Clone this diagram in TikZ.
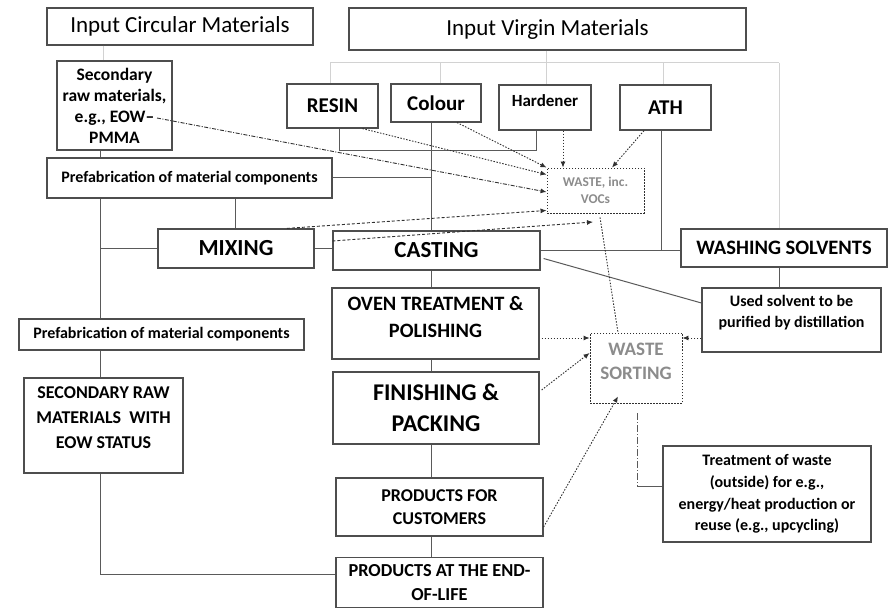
\documentclass[tikz,border=0pt]{standalone}
\usepackage{fontspec}
\setmainfont{Carlito}
\usetikzlibrary{arrows.meta,calc}
\definecolor{boxc}{HTML}{4E4E4E}
\definecolor{linec}{HTML}{5A5A5A}
\definecolor{lightc}{HTML}{D2D2D2}
\definecolor{dotc}{HTML}{303030}
\definecolor{wtext}{HTML}{8C8C8C}
\newcommand\fsz[2]{\fontsize{#1}{#2}\selectfont}
\begin{document}
\begin{tikzpicture}[x=1pt,y=-1pt,
  box/.style={draw=boxc,line width=1.2pt,inner sep=0pt,align=center,font=\bfseries},
  wbox/.style={draw=dotc,line width=0.9pt,dash pattern=on 1.5pt off 1.5pt,inner sep=0pt,align=center,text=wtext,font=\bfseries},
  txt/.style={inner sep=0pt,align=center,font=\bfseries},
  conn/.style={draw=linec,line width=1pt},
  lconn/.style={draw=lightc,line width=1pt},
  tipl/.style={-{Latex[length=6pt,width=5pt]}},
  dotarr/.style={draw=dotc,line width=0.9pt,dash pattern=on 1.5pt off 1.5pt,tipl},
  dotline/.style={draw=dotc,line width=0.9pt,dash pattern=on 1.5pt off 1.5pt},
  dasharr/.style={draw=dotc,line width=0.9pt,dash pattern=on 3pt off 2pt,tipl},
  dashdotarr/.style={draw=dotc,line width=0.9pt,dash pattern=on 4pt off 1.5pt on 1pt off 1.5pt,tipl}]
\useasboundingbox (0,0) rectangle (888,609);
\fill[white] (0,0) rectangle (888,609);

% boxes
\node[box,font=\fsz{23}{27},minimum width=266pt,minimum height=37pt] (icm) at (180,26.5) {Input Circular Materials};
\node[box,font=\fsz{23}{27},minimum width=397pt,minimum height=42pt] (ivm) at (547.5,29) {Input Virgin Materials};
\node[box,font=\bfseries\fsz{17.5}{21},minimum width=115pt,minimum height=89pt] (srm) at (114.5,105.5) {Secondary\\raw materials,\\e.g., EOW–\\PMMA};
\node[box,font=\bfseries\fsz{16}{19},minimum width=285pt,minimum height=40pt] (pf1) at (189.5,178) {Prefabrication of material components};
\node[box,font=\bfseries\fsz{21}{25},minimum width=91pt,minimum height=44pt] (resin) at (332.5,106) {RESIN};
\node[box,font=\bfseries\fsz{21}{25},minimum width=90pt,minimum height=38pt] (colour) at (436,103) {Colour};
\node[box,minimum width=92pt,minimum height=45pt] (hardener) at (545,107.5) {};
\node[txt,font=\bfseries\fsz{17}{20}] (hardt) at (545,101) {Hardener};
\node[box,font=\bfseries\fsz{21}{25},minimum width=91pt,minimum height=45pt] (ath) at (665.5,107.5) {ATH};
\node[wbox,font=\bfseries\fsz{13.4}{17},minimum width=97pt,minimum height=45pt] (wvoc) at (595.5,190.5) {WASTE, inc.\\VOCs};
\node[box,font=\bfseries\fsz{23}{27},minimum width=156pt,minimum height=39pt] (mixing) at (236,248.5) {MIXING};
\node[box,font=\bfseries\fsz{23}{27},minimum width=207pt,minimum height=39pt] (casting) at (436.5,250.5) {CASTING};
\node[box,font=\bfseries\fsz{20.5}{24},minimum width=206pt,minimum height=38pt] (wash) at (784,248) {WASHING SOLVENTS};
\node[box,minimum width=179pt,minimum height=64pt] (used) at (791.5,320) {};
\node[txt,font=\bfseries\fsz{16}{21}] (usedt) at (791.5,313) {Used solvent to be\\purified by distillation};
\node[box,minimum width=207pt,minimum height=71pt] (oven) at (435.5,323.5) {};
\node[txt,font=\bfseries\fsz{20.4}{27}] (ovent) at (435.5,317) {OVEN TREATMENT \&\\POLISHING};
\node[box,font=\bfseries\fsz{24}{31},minimum width=206pt,minimum height=72pt] (finish) at (436,408) {FINISHING \&\\PACKING};
\node[box,font=\bfseries\fsz{18}{23},minimum width=207pt,minimum height=58pt] (pfc) at (439.5,507) {PRODUCTS FOR\\CUSTOMERS};
\node[box,font=\bfseries\fsz{18.3}{24},minimum width=207pt,minimum height=50pt] (peol) at (439.5,582.5) {PRODUCTS AT THE END-\\OF-LIFE};
\node[box,font=\bfseries\fsz{16}{19},minimum width=285pt,minimum height=31pt] (pf2) at (161.5,334.5) {Prefabrication of material components};
\node[box,minimum width=159pt,minimum height=95pt] (sraw) at (103.5,425.5) {};
\node[txt,font=\bfseries\fsz{18}{25}] (srawt) at (103.5,418) {SECONDARY RAW\\MATERIALS\ \ WITH\\EOW STATUS};
\node[wbox,minimum width=92pt,minimum height=70pt] (wsort) at (636,368) {};
\node[txt,text=wtext,font=\bfseries\fsz{19}{24}] (wsortt) at (636,361) {WASTE\\SORTING};
\node[box,font=\bfseries\fsz{16}{21.7},minimum width=208pt,minimum height=96pt] (treat) at (767,494) {Treatment of waste\\(outside) for e.g.,\\energy/heat production or\\reuse (e.g., upcycling)};

% helper coordinates
\coordinate (c100) at (100,0);
\coordinate (c103) at (103,0);
\coordinate (c235) at (235,0);
\coordinate (c330) at (330,0);
\coordinate (c339) at (339,0);
\coordinate (c431) at (431,0);
\coordinate (c440) at (440,0);
\coordinate (c536) at (536,0);
\coordinate (c546) at (546,0);
\coordinate (c563) at (563,0);
\coordinate (c637) at (637,0);
\coordinate (c661) at (661,0);
\coordinate (c663) at (663,0);
\coordinate (c779) at (779,0);
\coordinate (r63) at (0,63);
\coordinate (r151) at (0,151);
\coordinate (r413) at (0,413);
\coordinate (r486) at (0,486);
\coordinate (srmp) at (157,118);
\coordinate (wend) at (593,222);

% light bracket from virgin materials
\draw[lconn] (icm.south -| c103) -- (srm.north -| c103);
\draw[lconn] (r63 -| c330) -- (r63 -| c779);
\draw[lconn] (r63 -| c330) -- (resin.north -| c330);
\draw[lconn] (r63 -| c440) -- (colour.north -| c440);
\draw[lconn] (ivm.south -| c546) -- (hardener.north -| c546);
\draw[lconn] (r63 -| c663) -- (ath.north -| c663);
\draw[lconn] (r63 -| c779) -- (wash.north -| c779);

% solid connectors
\draw[conn] (srm.south -| c100) -- (pf1.north -| c100);
\draw[conn] (pf1.south -| c100) -- (pf2.north -| c100);
\draw[conn] (mixing.west) -- (mixing.west -| c100);
\draw[conn] (pf1.south -| c235) -- (mixing.north -| c235);
\draw[conn] (pf1.east) -- (pf1.east -| c431);
\draw[conn] (colour.south -| c431) -- (casting.north -| c431);
\draw[conn] (resin.south -| c339) |- (r151 -| c536) -- (hardener.south -| c536);
\draw[conn] (mixing.east) -- (mixing.east -| casting.west);
\draw[conn] (casting.east) -- (casting.east -| wash.west);
\draw[conn] (ath.south -| c661) -- (casting.east -| c661);
\draw[conn] ([shift={(3,8)}]casting.east) -- ([yshift=17pt]used.west);
\draw[conn] (wash.south -| c779) -- (used.north -| c779);
\draw[conn] (casting.south -| c431) -- (oven.north -| c431);
\draw[conn] (oven.south -| c431) -- (finish.north -| c431);
\draw[conn] (finish.south -| c431) -- (pfc.north -| c431);
\draw[conn] (pfc.south -| c431) -- (peol.north -| c431);
\draw[conn] (pf2.south -| c100) -- (sraw.north -| c100);
\draw[conn] (sraw.south -| c100) |- ([yshift=8pt]peol.west);
\draw[conn,dash pattern=on 7pt off 2pt on 1pt off 2pt] (r413 -| c637) -- (r486 -| c637);
\draw[conn] (r486 -| c637) -- (r486 -| treat.west);

% waste arrows
\draw[dotarr] ([xshift=21pt]colour.south) -- (wvoc.north west);
\draw[dotarr] ([xshift=30pt]resin.south) -- ([yshift=-7pt]wvoc.north west);
\draw[dashdotarr] (srmp) -- ([yshift=-1.5pt]wvoc.west);
\draw[dasharr] ([xshift=51pt]mixing.north) -- ([yshift=3pt]wvoc.south west);
\draw[dasharr] ([yshift=9.5pt]casting.west) -- (wend);
\draw[dotarr] (hardener.south -| c563) -- (wvoc.north -| c563);
\draw[dotarr] ([xshift=-21.5pt]ath.south) -- ([xshift=16.5pt]wvoc.north);
\draw[dotline] ([xshift=4.5pt,yshift=-4pt]wvoc.south) -- ([xshift=-18pt]wsort.north);
\draw[dotarr] ([shift={(2,14.5)}]oven.east) -- ([yshift=30pt]wsort.west);
\draw[dotarr] ([shift={(2,-18)}]finish.east) -- ([yshift=15pt]wsort.west);
\draw[dotarr] ([yshift=-20pt]pfc.east) -- ([xshift=-18pt,yshift=7pt]wsort.south);
\draw[dotarr] ([yshift=-18pt]used.west) -- ([yshift=30pt]wsort.east);
\end{tikzpicture}
\end{document}
